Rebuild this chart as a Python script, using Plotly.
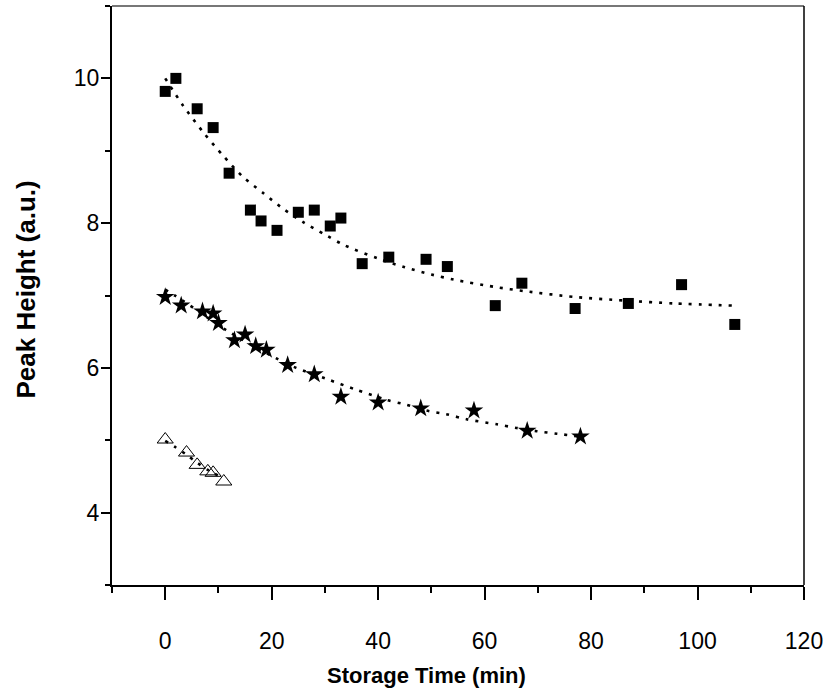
import plotly.graph_objects as go

# ---- data ----
sq_x = [0, 2, 6, 9, 12, 16, 18, 21, 25, 28, 31, 33, 37, 42, 49, 53, 62, 67, 77, 87, 97, 107]
sq_y = [9.82, 10.0, 9.58, 9.32, 8.69, 8.18, 8.03, 7.90, 8.15, 8.18, 7.96, 8.07, 7.44, 7.53,
        7.50, 7.40, 6.86, 7.17, 6.82, 6.89, 7.15, 6.60]

st_x = [0, 3, 7, 9, 10, 13, 15, 17, 19, 23, 28, 33, 40, 48, 58, 68, 78]
st_y = [6.98, 6.86, 6.78, 6.75, 6.62, 6.38, 6.46, 6.30, 6.25, 6.04, 5.91, 5.60, 5.52, 5.44,
        5.41, 5.13, 5.05]

tr_x = [0, 4, 6, 8, 9, 11]
tr_y = [5.01, 4.83, 4.66, 4.57, 4.55, 4.43]

# dotted fit curves
sq_fit_x = [0, 3.4, 7.2, 10.9, 14.6, 18.5, 22.3, 26, 29.8, 33.5, 40, 45, 50, 54.2, 61.8, 67.5,
            76.9, 86.3, 95.7, 107]
sq_fit_y = [10.0, 9.62, 9.25, 8.93, 8.64, 8.41, 8.19, 8.01, 7.85, 7.70, 7.51, 7.39, 7.29, 7.22,
            7.12, 7.06, 6.98, 6.93, 6.89, 6.86]

st_fit_x = [0, 2, 5.9, 11.5, 20.9, 24.6, 30.2, 35.8, 41.5, 45.3, 49.1, 52.8, 56.6, 62.3, 66,
            69.8, 73.6, 78]
st_fit_y = [7.08, 6.99, 6.80, 6.52, 6.13, 6.00, 5.85, 5.70, 5.56, 5.49, 5.41, 5.36, 5.29, 5.22,
            5.17, 5.125, 5.09, 5.05]

tr_fit_x = [0, 2, 4, 6, 8, 10]
tr_fit_y = [4.99, 4.90, 4.80, 4.69, 4.59, 4.51]

x_ticks = [0, 20, 40, 60, 80, 100, 120]
y_ticks = [4, 6, 8, 10]

FONT = "Liberation Sans, Arial, sans-serif"
DOT = "3px,7px"

fig = go.Figure()
for fx, fy in [(sq_fit_x, sq_fit_y), (st_fit_x, st_fit_y), (tr_fit_x, tr_fit_y)]:
    fig.add_trace(go.Scatter(x=fx, y=fy, mode="lines",
                             line=dict(color="black", width=2.6, dash=DOT, shape="spline", smoothing=0.8),
                             hoverinfo="skip", showlegend=False))

fig.add_trace(go.Scatter(x=sq_x, y=sq_y, mode="markers",
                         marker=dict(symbol="square", size=11, color="black"), showlegend=False))
fig.add_trace(go.Scatter(x=st_x, y=st_y, mode="markers",
                         marker=dict(symbol="star", size=14, color="black", line=dict(width=0)),
                         showlegend=False))
fig.add_trace(go.Scatter(x=tr_x, y=tr_y, mode="markers",
                         marker=dict(symbol="triangle-up-open", size=14, color="black",
                                     line=dict(width=1)), showlegend=False))

fig.update_layout(
    width=829, height=692,
    margin=dict(l=112, r=21, t=6, b=107),
    paper_bgcolor="white", plot_bgcolor="white",
    font=dict(family=FONT, color="black"),
    xaxis=dict(range=[-10, 120], tickvals=x_ticks, ticks="outside", ticklen=13, tickwidth=2,
               tickcolor="black", showline=True, linecolor="black", linewidth=2,
               showgrid=False, zeroline=False, tickfont=dict(size=23, family=FONT),
               ticklabelstandoff=21,
               minor=dict(dtick=10, tick0=0, ticks="outside", ticklen=6, tickwidth=2,
                          tickcolor="black", showgrid=False)),
    yaxis=dict(range=[3, 11], tickvals=y_ticks, ticks="outside", ticklen=9, tickwidth=2,
               tickcolor="black", showline=True, linecolor="black", linewidth=2,
               showgrid=False, zeroline=False, tickfont=dict(size=23, family=FONT),
               ticklabelstandoff=-3,
               minor=dict(dtick=1, tick0=3, ticks="outside", ticklen=5, tickwidth=2,
                          tickcolor="black", showgrid=False)),
    shapes=[
        dict(type="line", xref="paper", yref="paper", x0=0, x1=1, y0=1, y1=1,
             line=dict(color="#777777", width=2)),
        dict(type="line", xref="paper", yref="paper", x0=1, x1=1, y0=0, y1=1,
             line=dict(color="black", width=1.5)),
    ],
    annotations=[
        dict(text="<b>Storage Time (min)</b>", xref="paper", yref="paper",
             x=(428 - 112) / 696, y=-(675 - 585) / 579, showarrow=False,
             font=dict(size=22, family=FONT), xanchor="center", yanchor="middle"),
        dict(text="<b>Peak Height (a.u.)</b>", xref="paper", yref="paper",
             x=-(112 - 25) / 696, y=(585 - 290) / 579, showarrow=False, textangle=-90,
             font=dict(size=26, family=FONT), xanchor="center", yanchor="middle"),
    ],
)

fig.write_html("out.html", config={"displayModeBar": False},
               post_script="document.body.style.margin='0';document.body.style.padding='0';")
